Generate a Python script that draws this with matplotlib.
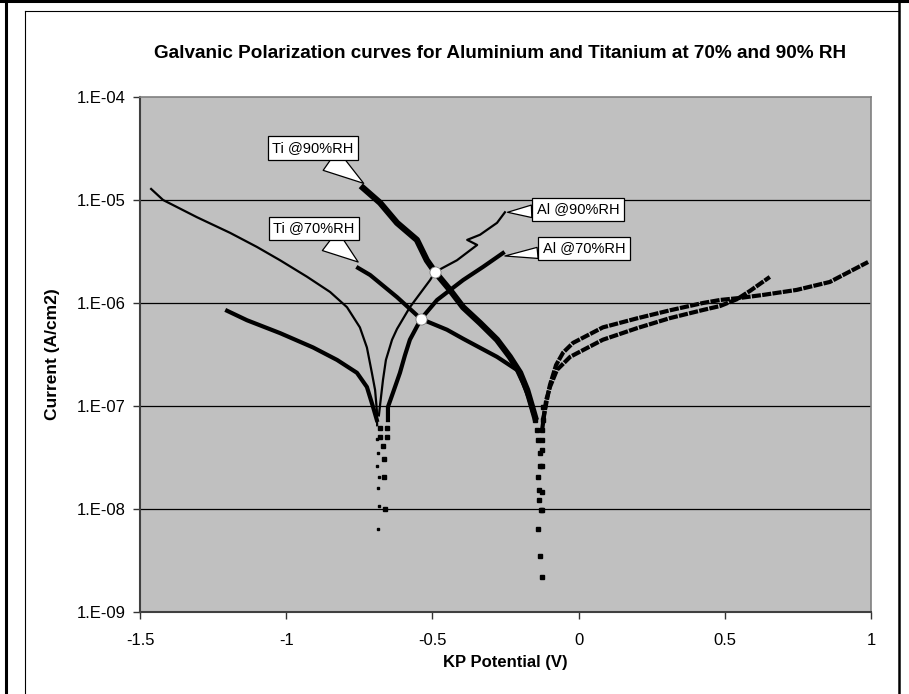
import matplotlib
matplotlib.use("Agg")
import matplotlib.pyplot as plt
from matplotlib.lines import Line2D

plt.rcParams['font.family'] = ['Liberation Sans', 'DejaVu Sans']

title = "Galvanic Polarization curves for Aluminium and Titanium at 70% and 90% RH"
x_label = "KP Potential (V)"
y_label = "Current (A/cm2)"
x_ticks = [-1.5, -1, -0.5, 0, 0.5, 1]
x_ticklabels = ["-1.5", "-1", "-0.5", "0", "0.5", "1"]
y_ticks = [1e-9, 1e-8, 1e-7, 1e-6, 1e-5, 1e-4]
y_ticklabels = ["1.E-09", "1.E-08", "1.E-07", "1.E-06", "1.E-05", "1.E-04"]

# ---- Aluminium 90% RH (thin curve) ----
al90_left_v = [-1.462, -1.421, -1.305, -1.192, -1.100, -1.021, -0.929, -0.850,
               -0.792, -0.748, -0.724, -0.707, -0.696, -0.690, -0.689]
al90_left_i = [1.28e-5, 1.0e-5, 6.8e-6, 4.8e-6, 3.5e-6, 2.6e-6, 1.8e-6, 1.28e-6,
               9.1e-7, 5.8e-7, 3.7e-7, 2.1e-7, 1.43e-7, 9.1e-8, 6.5e-8]
al90_tail_v = [-0.688, -0.686, -0.690, -0.683, -0.686, -0.683, -0.686]
al90_tail_i = [4.8e-8, 3.5e-8, 2.6e-8, 2.05e-8, 1.6e-8, 1.07e-8, 6.4e-9]
al90_right_v = [-0.683, -0.679, -0.669, -0.659, -0.638, -0.621, -0.577, -0.508,
                -0.491, -0.416, -0.347, -0.381, -0.337, -0.279, -0.252]
al90_right_i = [8.1e-8, 1.02e-7, 1.79e-7, 2.8e-7, 4.4e-7, 5.6e-7, 9.1e-7, 1.67e-6,
                2.0e-6, 2.6e-6, 3.66e-6, 4.1e-6, 4.6e-6, 6.0e-6, 7.6e-6]

# ---- Aluminium 70% RH ----
al70_left_v = [-1.202, -1.134, -1.021, -0.908, -0.826, -0.758, -0.724, -0.703, -0.690]
al70_left_i = [8.4e-7, 6.8e-7, 5.1e-7, 3.7e-7, 2.8e-7, 2.1e-7, 1.53e-7, 9.8e-8, 7.3e-8]
al70_tail_v = [-0.679, -0.679, -0.669, -0.666, -0.666, -0.662, -0.655, -0.655]
al70_tail_i = [6.1e-8, 5.0e-8, 4.1e-8, 3.05e-8, 2.05e-8, 1.0e-8, 5.0e-8, 6.1e-8]
al70_right_v = [-0.652, -0.652, -0.635, -0.611, -0.594, -0.577, -0.539, -0.484,
                -0.395, -0.327, -0.259]
al70_right_i = [7.3e-8, 9.8e-8, 1.34e-7, 2.1e-7, 3.1e-7, 4.4e-7, 7.0e-7, 1.07e-6,
                1.67e-6, 2.24e-6, 3.05e-6]

# ---- Titanium 90% RH ----
ti90_left_v = [-0.737, -0.679, -0.621, -0.553, -0.519, -0.491, -0.440, -0.395,
               -0.337, -0.279, -0.235, -0.200, -0.176, -0.159, -0.149]
ti90_left_i = [1.31e-5, 9.4e-6, 6.0e-6, 4.1e-6, 2.6e-6, 2.0e-6, 1.34e-6, 9.1e-7,
               6.4e-7, 4.4e-7, 3.0e-7, 2.1e-7, 1.43e-7, 9.8e-8, 7.8e-8]
ti90_tail_v = [-0.122, -0.122, -0.125, -0.125, -0.125, -0.125, -0.125, -0.125]
ti90_tail_i = [9.8e-8, 7.3e-8, 5.8e-8, 4.7e-8, 3.7e-8, 2.6e-8, 1.46e-8, 9.8e-9]
ti90_right_v = [-0.122, -0.098, -0.077, -0.053, -0.019, 0.083, 0.200, 0.313,
                0.425, 0.484, 0.552, 0.633, 0.746, 0.859, 0.917, 0.990]
ti90_right_i = [7.3e-8, 1.6e-7, 2.5e-7, 3.3e-7, 4.1e-7, 5.8e-7, 7.1e-7, 8.5e-7,
                1.0e-6, 1.07e-6, 1.12e-6, 1.2e-6, 1.34e-6, 1.6e-6, 1.95e-6, 2.5e-6]

# ---- Titanium 70% RH ----
ti70_left_v = [-0.754, -0.713, -0.621, -0.539, -0.450, -0.395, -0.279, -0.211,
               -0.190, -0.170, -0.156]
ti70_left_i = [2.19e-6, 1.87e-6, 1.14e-6, 7.0e-7, 5.5e-7, 4.5e-7, 3.0e-7, 2.24e-7,
               1.67e-7, 1.2e-7, 8.7e-8]
ti70_tail_v = [-0.149, -0.142, -0.139, -0.132, -0.132, -0.139, -0.135, -0.135,
               -0.129, -0.139, -0.132, -0.125]
ti70_tail_i = [7.3e-8, 5.8e-8, 4.7e-8, 3.5e-8, 2.6e-8, 2.05e-8, 1.53e-8, 1.22e-8,
               9.8e-9, 6.4e-9, 3.5e-9, 2.2e-9]
ti70_right_v = [-0.125, -0.111, -0.098, -0.074, -0.029, 0.083, 0.200, 0.313,
                0.425, 0.484, 0.542, 0.586, 0.654]
ti70_right_i = [5.8e-8, 1.14e-7, 1.53e-7, 2.24e-7, 3.0e-7, 4.4e-7, 5.7e-7, 7.14e-7,
                8.55e-7, 9.35e-7, 1.09e-6, 1.31e-6, 1.79e-6]

# galvanic couple points
couple_v = [-0.491, -0.539]
couple_i = [2.0e-6, 7.0e-7]

# callouts: label, tip (V, I)
callout_labels = ["Ti @90%RH", "Ti @70%RH", "Al @90%RH", "Al @70%RH"]
callout_tip_v = [-0.735, -0.754, -0.243, -0.252]
callout_tip_i = [1.45e-5, 2.5e-6, 7.6e-6, 2.86e-6]

W, H = 909, 694
fig = plt.figure(figsize=(W / 100, H / 100), dpi=100)
fig.patch.set_facecolor("white")

def fx(px):
    return px / W

def fy(py):
    return 1 - py / H

ax = fig.add_axes([fx(140), fy(612), fx(871) - fx(140), fy(97) - fy(612)])
ax.set_facecolor("#C0C0C0")
ax.set_yscale("log")
ax.set_xlim(-1.5, 1.0)
ax.set_ylim(1e-9, 1e-4)

ax.set_yticks(y_ticks)
ax.set_yticklabels(y_ticklabels)
ax.yaxis.set_minor_locator(matplotlib.ticker.NullLocator())
ax.set_xticks(x_ticks)
ax.set_xticklabels(x_ticklabels)
ax.tick_params(axis="both", labelsize=12, length=5, width=1, color="#333333")
ax.tick_params(axis="y", pad=5)
ax.tick_params(axis="x", pad=10)
for yt in y_ticks[1:-1]:
    ax.axhline(yt, color="black", lw=0.9, zorder=1)

for s in ["top", "right"]:
    ax.spines[s].set_color("#808080")
    ax.spines[s].set_linewidth(1.2)
for s in ["left", "bottom"]:
    ax.spines[s].set_color("#404040")
    ax.spines[s].set_linewidth(1.5)

k = "black"
# Al 90
ax.plot(al90_left_v, al90_left_i, color=k, lw=1.6, zorder=3)
ax.plot(al90_tail_v, al90_tail_i, ls="none", marker="s", ms=1.6, color=k, zorder=3)
ax.plot(al90_right_v, al90_right_i, color=k, lw=1.6, zorder=3)
# Al 70
ax.plot(al70_left_v, al70_left_i, color=k, lw=3.0, zorder=3)
ax.plot(al70_tail_v, al70_tail_i, ls="none", marker="s", ms=3.2, color=k, zorder=3)
ax.plot(al70_right_v, al70_right_i, color=k, lw=3.0, zorder=3)
# Ti 90
ax.plot(ti90_left_v, ti90_left_i, color=k, lw=4.5, zorder=3)
ax.plot(ti90_tail_v, ti90_tail_i, ls="none", marker="s", ms=3.2, color=k, zorder=3)
ax.plot(ti90_right_v, ti90_right_i, color=k, lw=3.0, dashes=(2.2, 0.3), zorder=3)
# Ti 70
ax.plot(ti70_left_v, ti70_left_i, color=k, lw=3.0, zorder=3)
ax.plot(ti70_tail_v, ti70_tail_i, ls="none", marker="s", ms=3.2, color=k, zorder=3)
ax.plot(ti70_right_v, ti70_right_i, color=k, lw=3.0, dashes=(2.2, 0.3), zorder=3)

ax.plot(couple_v, couple_i, ls="none", marker="o", ms=8, mfc="white",
        mec="#808080", mew=0.6, zorder=6)

# callout boxes (positions in axes fraction)
box_pos = [(0.2366, 0.9010), (0.2380, 0.7447), (0.5992, 0.7816), (0.6074, 0.7058)]
tail_w = [0.9, 0.9, 0.45, 0.4]
for lab, tv, ti, pos, tw in zip(callout_labels, callout_tip_v, callout_tip_i, box_pos, tail_w):
    ax.annotate(lab, xy=(tv, ti), xycoords="data", xytext=pos, textcoords="axes fraction",
                ha="center", va="center", fontsize=10.5, zorder=8,
                bbox=dict(boxstyle="square,pad=0.32", fc="white", ec="black", lw=0.9),
                arrowprops=dict(arrowstyle="wedge,tail_width=%s" % tw, mutation_scale=20,
                                fc="white", ec="black", lw=0.9, shrinkA=0, shrinkB=0))

fig.text(fx(500), fy(54), title, ha="center", va="center", fontsize=13.6, fontweight="bold")
fig.text(fx(505), fy(663), x_label, ha="center", va="center", fontsize=12, fontweight="bold")
fig.text(fx(53), fy(354), y_label, ha="center", va="center", rotation=90,
         fontsize=12.5, fontweight="bold")

# chart frame lines
fig.add_artist(Line2D([fx(6), fx(6)], [0, 1], color="black", lw=2.2, transform=fig.transFigure))
fig.add_artist(Line2D([0, 1], [fy(1), fy(1)], color="black", lw=2.2, transform=fig.transFigure))
fig.add_artist(Line2D([fx(899), fx(899)], [0, fy(1)], color="black", lw=1.8, transform=fig.transFigure))
fig.add_artist(Line2D([fx(25), fx(25)], [0, fy(11)], color="black", lw=0.8, transform=fig.transFigure))
fig.add_artist(Line2D([fx(25), fx(899)], [fy(11), fy(11)], color="black", lw=0.8, transform=fig.transFigure))

fig.savefig("out.png", dpi=100)
